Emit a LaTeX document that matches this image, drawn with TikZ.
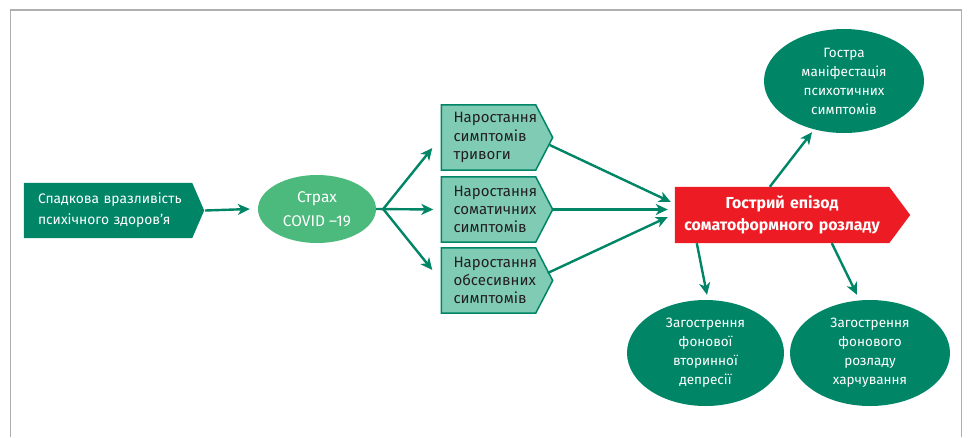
\documentclass[tikz,border=0pt]{standalone}
\usepackage{fontspec}
\setmainfont{Fira Sans}
\usetikzlibrary{arrows.meta,shapes.geometric,backgrounds,calc}
\definecolor{dkgreen}{RGB}{0,133,102}
\definecolor{ltgreen}{RGB}{76,185,125}
\definecolor{ltteal}{RGB}{128,203,180}
\definecolor{redbox}{RGB}{237,28,36}
\definecolor{framegray}{RGB}{175,175,175}
\definecolor{txtdark}{RGB}{35,31,32}
\newcommand\pentfull[2]{(#1.north west) -- ($(#1.north east)+(-#2,0)$) -- (#1.east) -- ($(#1.south east)+(-#2,0)$) -- (#1.south west) -- cycle}
\newcommand\pentext[2]{(#1.north west) -- (#1.north east) -- ($(#1.east)+(#2,0)$) -- (#1.south east) -- (#1.south west) -- cycle}
\tikzset{
  arr/.style={draw=dkgreen, line width=2.4pt, -{Stealth[length=12pt,width=11pt,inset=3.5pt]}},
  firstbox/.style={inner sep=0pt, inner xsep=14pt, align=left, text=white, text width=152pt, minimum height=55pt, font=\fontsize{13.8}{21}\selectfont},
  symbox/.style={inner sep=0pt, inner xsep=12pt, align=left, text=txtdark, text width=87pt, minimum height=65pt, font=\fontsize{15}{18.3}\selectfont},
  rednode/.style={inner sep=0pt, align=center, text=white, text width=214pt, minimum height=56pt, font=\bfseries\fontsize{15.9}{22}\selectfont},
  fearell/.style={ellipse, fill=ltgreen, text=white, inner sep=0pt, minimum width=118pt, minimum height=68pt, align=center, font=\fontsize{15.5}{24}\selectfont},
  outell/.style={ellipse, fill=dkgreen, text=white, inner sep=0pt, minimum height=106pt, align=center, font=\fontsize{13.5}{19}\selectfont},
}
\begin{document}
\begin{tikzpicture}[x=1pt, y=-1pt]
\useasboundingbox (0,0) rectangle (968,437);
\draw[framegray, line width=1.2pt] (10.5,437) -- (10.5,10) -- (961.5,10) -- (961.5,437);

\node[firstbox] (b1) at (114,210.5) {Спадкова~вразливість\\психічного~здоров’я};
\node[fearell] (fear) at (317,209) {Страх\\COVID –19};
\node[symbox] (s1) at (497,137.5) {Наростання\\симптомів\\тривоги};
\node[symbox] (s2) at (497,209.5) {Наростання\\соматичних\\симптомів};
\node[symbox] (s3) at (497,280.5) {Наростання\\обсесивних\\симптомів};
\node[rednode] (red) at (782,215) {Гострий епізод\\соматоформного розладу};
\node[outell, minimum width=160pt, minimum height=104pt] (top) at (844,81) {Гостра\\маніфестація\\психотичних\\симптомів};
\node[outell, minimum width=157pt] (bot1) at (705.5,353) {Загострення\\фонової\\вторинної\\депресії};
\node[outell, minimum width=160pt] (bot2) at (870,353) {Загострення\\фонового\\розладу\\харчування};

\begin{scope}[on background layer]
  \fill[dkgreen] \pentfull{b1}{12};
  \filldraw[fill=ltteal, draw=dkgreen, line width=1.5pt] \pentfull{s1}{17};
  \filldraw[fill=ltteal, draw=dkgreen, line width=1.5pt] \pentfull{s2}{17};
  \filldraw[fill=ltteal, draw=dkgreen, line width=1.5pt] \pentfull{s3}{17};
  \fill[redbox] \pentext{red}{21};
\end{scope}

\coordinate (fork) at ($(fear.east)+(7,0)$);
\draw[arr] ($(b1.east)+(1,0)$) -- ($(fear.west)+(-8,0)$);
\draw[arr] (fear.east) -- ($(s2.west)+(-8,0)$);
\draw[arr] (fork) -- ($(s1.west)+(-9,10.5)$);
\draw[arr] (fork) -- ($(s3.west)+(-9,-10.5)$);

\draw[arr] ($(s1.east)+(-3,7.5)$) -- ($(red.west)+(-4,-13)$);
\draw[arr] (s2.east) -- ($(red.west)+(-7,-5.5)$);
\draw[arr] ($(s3.east)+(-5,-7.5)$) -- ($(red.west)+(-7,2)$);

\draw[arr] ($(red.north west)+(95,0)$) -- ($(top.south)+(-32,-1)$);
\draw[arr] ($(red.south west)+(22,0)$) -- ($(bot1.north)+(1.5,-5)$);
\draw[arr] ($(red.south west)+(157,0)$) -- ($(bot2.north)+(-13,-5)$);
\end{tikzpicture}
\end{document}
